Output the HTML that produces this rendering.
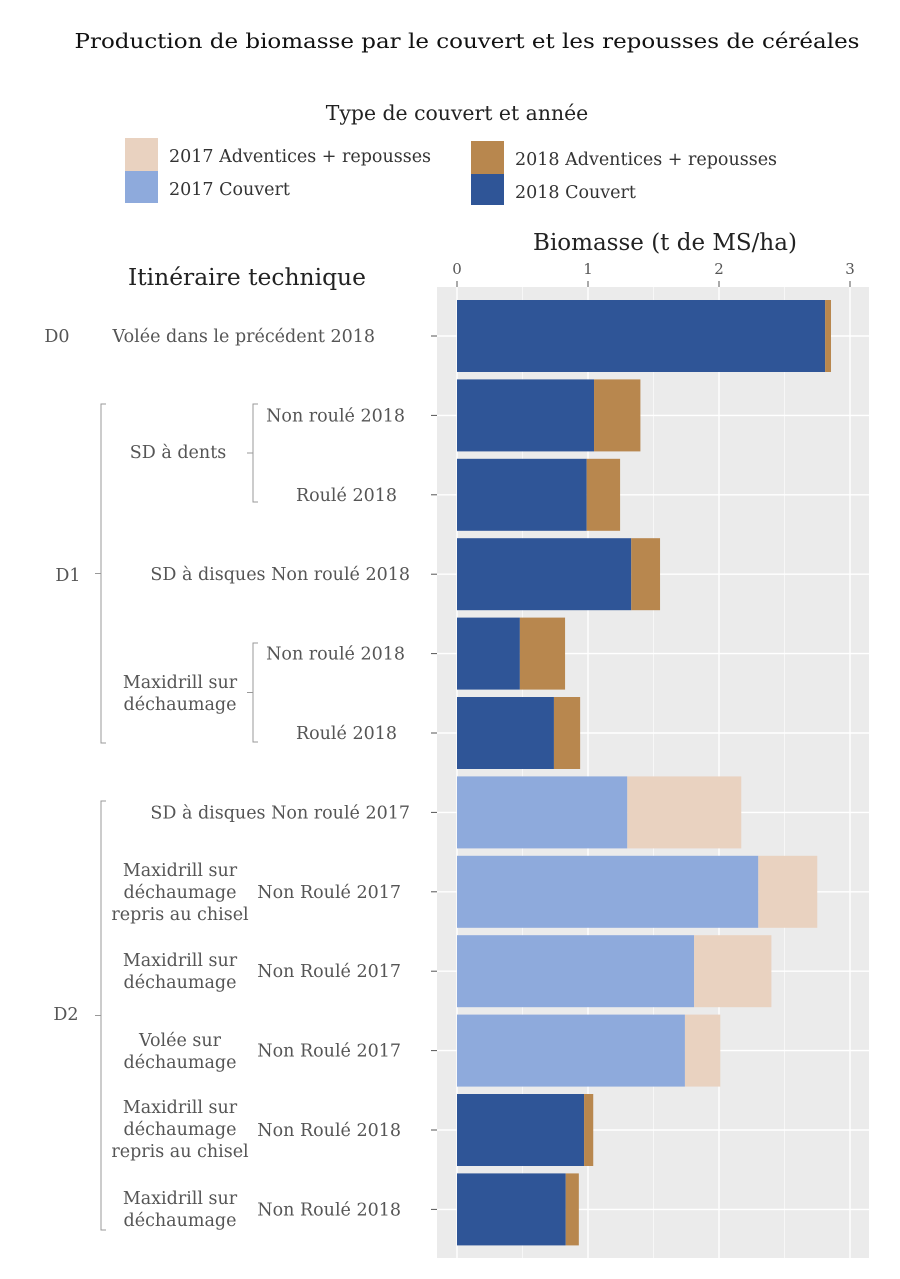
<!DOCTYPE html>
<html><head><meta charset="utf-8"><style>
body{margin:0;background:#fff;}
svg text{font-family:"DejaVu Serif","Liberation Serif",serif;}
</style></head><body>
<svg width="900" height="1274" xmlns="http://www.w3.org/2000/svg">
<text x="467" y="48" font-size="20.5" text-anchor="middle" fill="#111" textLength="785" lengthAdjust="spacingAndGlyphs">Production de biomasse par le couvert et les repousses de céréales</text>
<text x="457" y="120" font-size="20.4" text-anchor="middle" fill="#222">Type de couvert et année</text>
<g>
<rect x="125" y="138" width="33" height="33" fill="#e9d2c0"/>
<text x="169" y="162" font-size="17.5" fill="#333">2017 Adventices + repousses</text>
<rect x="125" y="171" width="33" height="32" fill="#8eaadc"/>
<text x="169" y="195" font-size="17.5" fill="#333">2017 Couvert</text>
<rect x="471" y="141" width="33" height="33" fill="#b8874e"/>
<text x="515" y="165" font-size="17.5" fill="#333">2018 Adventices + repousses</text>
<rect x="471" y="174" width="33" height="31" fill="#2f5597"/>
<text x="515" y="198" font-size="17.5" fill="#333">2018 Couvert</text>
</g>
<text x="665" y="250" font-size="23" text-anchor="middle" fill="#222">Biomasse (t de MS/ha)</text>
<text x="247" y="285" font-size="23.4" text-anchor="middle" fill="#222">Itinéraire technique</text>
<rect x="437" y="287" width="432" height="971" fill="#ebebeb"/>
<g id="grid"></g><g id="bars"></g><g id="ticks"></g><g id="labels" fill="#555" font-size="17.5"></g>
</svg>
<script>
const categories=["Volée dans le précédent 2018","Non roulé 2018","Roulé 2018","SD à disques Non roulé 2018","Non roulé 2018","Roulé 2018","SD à disques Non roulé 2017","Non Roulé 2017","Non Roulé 2017","Non Roulé 2017","Non Roulé 2018","Non Roulé 2018"];
const years=[2018,2018,2018,2018,2018,2018,2017,2017,2017,2017,2018,2018];
const couvert=[2.81,1.046,0.99,1.33,0.48,0.74,1.30,2.30,1.81,1.74,0.97,0.83];
const adventices=[0.045,0.354,0.255,0.22,0.345,0.20,0.87,0.45,0.59,0.27,0.07,0.10];
const xTicks=[0,1,2,3];
const NS="http://www.w3.org/2000/svg";
const x=v=>457+v*131;
const y=i=>336+i*79.4;
const bh=72;
function mk(tag,attrs,parent){const e=document.createElementNS(NS,tag);for(const k in attrs)e.setAttribute(k,attrs[k]);document.getElementById(parent).appendChild(e);return e;}
for(let v=0;v<=3.01;v+=0.5){
 const l=mk('line',{x1:x(v),x2:x(v),y1:287,y2:1258,stroke:'#fff','stroke-width':v%1===0?1.4:0.6},'grid');
 
 
}
categories.forEach((c,i)=>{
 const l=mk('line',{x1:437,x2:869,y1:y(i),y2:y(i),stroke:'#fff','stroke-width':1.4},'grid');
 
 
 const t=mk('line',{x1:431,x2:437,y1:y(i),y2:y(i),stroke:'#555'},'ticks');
 
 
 const cv=years[i]===2017?'#8eaadc':'#2f5597', ad=years[i]===2017?'#e9d2c0':'#b8874e';
 const b1=mk('rect',{x:x(0),y:y(i)-bh/2,width:x(couvert[i])-x(0),height:bh,fill:cv},'bars');
 
 
 const b2=mk('rect',{x:x(couvert[i]),y:y(i)-bh/2,width:x(couvert[i]+adventices[i])-x(couvert[i]),height:bh,fill:ad},'bars');
 
 
 const lx=(i===3||i===6)?410:(i===0?375:(i>=7?401:(i===1||i===4?405:397)));
 const tx=mk('text',{x:lx,y:y(i)+6,'text-anchor':'end'},'labels');
 tx.textContent=c;
 
 
});
xTicks.forEach(v=>{
 const t=mk('line',{x1:x(v),x2:x(v),y1:281,y2:287,stroke:'#555'},'ticks');
 
 
 const tx=mk('text',{x:x(v),y:274,'text-anchor':'middle','font-size':15},'labels');
 tx.textContent=v;
 
 
});
function txt(s,xx,yy,anchor){const t=mk('text',{x:xx,y:yy,'text-anchor':anchor||'middle'},'labels');t.textContent=s;
 
 }
function bracket(xx,y1,y2){const d=`M${xx+5},${y1}H${xx}V${y2}H${xx+5}M${xx},${(y1+y2)/2}H${xx-6}`;
 const p=mk('path',{d:d,fill:'none',stroke:'#999'},'labels');
 
 }
txt('D0',57,342);txt('D1',68,581);txt('D2',66,1020);
bracket(101,404,743);bracket(101,801,1230);
bracket(253,404,502);bracket(253,643,742);
txt('SD à dents',178,458);
txt('Maxidrill sur',180,688);txt('déchaumage',180,710);
txt('Maxidrill sur',180,876);txt('déchaumage',180,898);txt('repris au chisel',180,920);
txt('Maxidrill sur',180,966);txt('déchaumage',180,988);
txt('Volée sur',180,1046);txt('déchaumage',180,1068);
txt('Maxidrill sur',180,1113);txt('déchaumage',180,1135);txt('repris au chisel',180,1157);
txt('Maxidrill sur',180,1204);txt('déchaumage',180,1226);
</script>
</body></html>
